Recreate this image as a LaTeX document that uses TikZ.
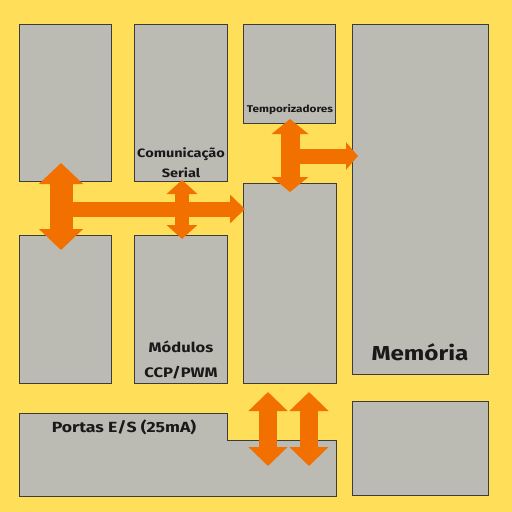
\documentclass[tikz,border=0pt]{standalone}
\usepackage{fontspec}
\setmainfont{Fira Sans}
\newfontfamily\lblfont{Fira Sans}[FakeStretch=1.2]
\usetikzlibrary{arrows.meta}
\definecolor{bgyellow}{RGB}{255,222,89}
\definecolor{boxgray}{RGB}{187,187,180}
\definecolor{boxline}{RGB}{60,60,60}
\definecolor{arroworange}{RGB}{241,112,0}
\tikzset{
  blk/.style={draw=boxline, fill=boxgray, line width=0.9pt, inner sep=0pt, anchor=north west},
  lbl/.style={text=black!90, align=center, inner sep=0pt},
  fatarrow/.style n args={3}{draw=arroworange, line width=#1,
     arrows={Triangle[width=#2,length=#3,fill=arroworange]-Triangle[width=#2,length=#3,fill=arroworange]}},
  fatarrowone/.style n args={3}{draw=arroworange, line width=#1,
     arrows={-Triangle[width=#2,length=#3,fill=arroworange]}}
}
\begin{document}
\begin{tikzpicture}[x=1pt,y=-1pt]
\fill[bgyellow] (0,0) rectangle (512,512);
\useasboundingbox (0,0) rectangle (512,512);
% boxes
\node[blk, minimum width=92pt, minimum height=157pt] (b1) at (19,24) {};
\node[blk, minimum width=93pt, minimum height=157pt] (b2) at (134,24) {};
\node[blk, minimum width=92pt, minimum height=99pt] (b3) at (243,24) {};
\node[blk, minimum width=136pt, minimum height=350pt] (mem) at (352,24) {};
\node[blk, minimum width=92pt, minimum height=148pt] (b5) at (19,235) {};
\node[blk, minimum width=93pt, minimum height=148pt] (b6) at (134,235) {};
\node[blk, minimum width=93pt, minimum height=200pt] (b7) at (243,183) {};
\node[blk, minimum width=136pt, minimum height=94pt] (b9) at (352,401) {};
\draw[draw=boxline, fill=boxgray, line width=0.9pt]
  (19,413) -- (227,413) -- (227,440) -- (336,440) -- (336,496) -- (19,496) -- cycle;
% labels
\node[lbl, font=\lblfont\bfseries\fontsize{12.1}{20}\selectfont] (tcom) at (181,163) {Comunicação\\Serial};
\node[lbl, font=\lblfont\bfseries\fontsize{9.8}{11}\selectfont] (ttemp) at (290,110) {Temporizadores};
\node[lbl, font=\lblfont\bfseries\fontsize{13.8}{25}\selectfont] (tccp) at (181,360) {Módulos\\CCP/PWM};
\node[lbl, font=\lblfont\bfseries\fontsize{20.2}{24}\selectfont] (tmem) at (420,352) {Memória};
\node[lbl, font=\lblfont\bfseries\fontsize{14.7}{17}\selectfont] (tport) at (124,427) {Portas E/S (25mA)};
% arrow end points
\coordinate (a1t) at (61,163);
\coordinate (a1b) at (61,250);
\coordinate (a2s) at (61,209);
\coordinate (a2e) at (245,209);
\coordinate (a3t) at (182,180);
\coordinate (a3b) at (182,239);
\coordinate (a4t) at (290,119);
\coordinate (a4b) at (290,192);
\coordinate (a5s) at (290,156);
\coordinate (a5e) at (358,156);
\coordinate (a6t) at (268,392);
\coordinate (a6b) at (268,466);
\coordinate (a7t) at (309,392);
\coordinate (a7b) at (309,466);
% arrows
\draw[fatarrowone={15pt}{28pt}{15pt}] (a2s) -- (a2e);
\draw[fatarrow={23pt}{43pt}{21pt}] (a1t) -- (a1b);
\draw[fatarrow={14pt}{30pt}{14pt}] (a3t) -- (a3b);
\draw[fatarrowone={15pt}{27pt}{12pt}] (a5s) -- (a5e);
\draw[fatarrow={19pt}{36pt}{15pt}] (a4t) -- (a4b);
\draw[fatarrow={18pt}{38pt}{19pt}] (a6t) -- (a6b);
\draw[fatarrow={18pt}{38pt}{19pt}] (a7t) -- (a7b);
\end{tikzpicture}
\end{document}
